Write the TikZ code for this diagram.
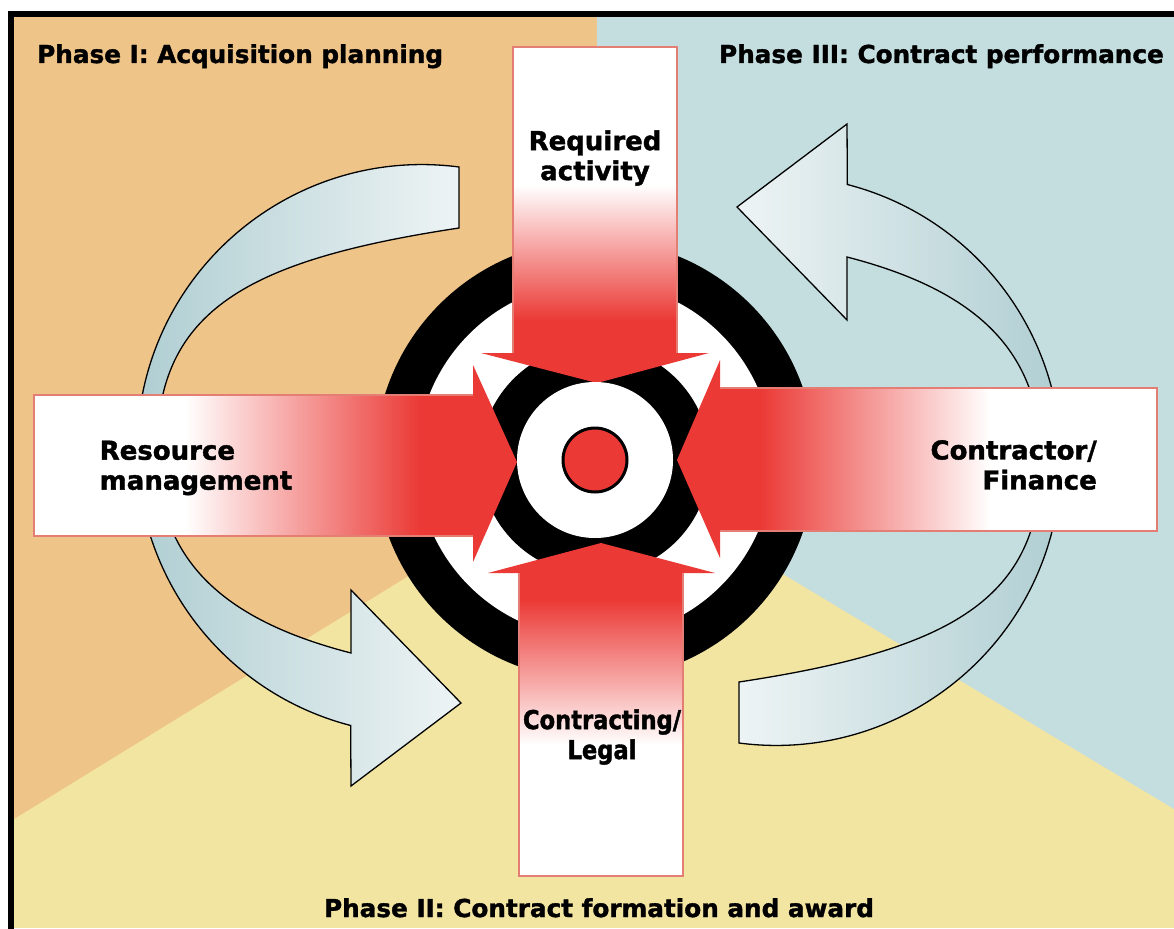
\documentclass[tikz,border=0pt]{standalone}
\usepackage{fontspec}
\setmainfont{DejaVu Sans}[BoldFeatures={FakeBold=1.5}]
\newfontfamily\narrowsans{DejaVu Sans}[FakeStretch=0.87, BoldFeatures={FakeBold=1.5}]
\usepackage{tikz}

\definecolor{orangebg}{RGB}{239,196,136}
\definecolor{bluebg}{RGB}{196,222,224}
\definecolor{yellowbg}{RGB}{242,229,162}
\definecolor{arrowred}{RGB}{235,58,54}
\definecolor{boxline}{RGB}{228,125,115}
\definecolor{arclight}{RGB}{238,244,245}
\definecolor{arcdark}{RGB}{172,204,208}

% outline of the curved cycle arrow (right one; the left one is the same turned 180 degrees)
\newcommand{\cyclearc}{(739,682) -- (739,743) arc[start angle=97.46, end angle=-75.5, radius=285]
  -- (847,124) -- (737,207) -- (847,320) -- (847,257)
  .. controls (975,290) and (1041,350) .. (1041,460)
  .. controls (1041,600) and (950,650) .. (739,682) -- cycle}

\begin{document}
\begin{tikzpicture}[x=1pt, y=-1pt,
        phase/.style={font=\fontsize{24.7}{28}\selectfont\bfseries, inner sep=0pt},
        boxtext/.style={font=\fontsize{26}{30}\selectfont\bfseries, inner sep=0pt},
        redarrow/.style={fill=arrowred},
        boxedge/.style={draw=boxline, line width=1.5pt},
        arcarrow/.style={draw=black, line width=1.3pt}]

        \useasboundingbox (0,0) rectangle (1174,928);
        \clip (0,0) rectangle (1174,928);
        \fill[white] (0,0) rectangle (1174,928);

        % Phase areas
        \fill[yellowbg] (14,17) rectangle (1174,928);
        \fill[orangebg] (14,17) -- (597,17) -- (595,461) -- (14,819) -- cycle;
        \fill[bluebg] (597,17) -- (1174,17) -- (1174,809) -- (595,461) -- cycle;
        \draw[line width=6pt] (11,1000) -- (11,14) -- (1200,14);

        % Cycle arrows
        \shade[arcarrow, left color=arclight, right color=arcdark] \cyclearc;
        \shade[arcarrow, left color=arcdark, right color=arclight, rotate around={180:(599,455)}] \cyclearc;

        % Target
        \coordinate (hub) at (595,460);
        \fill[black] (hub) circle[radius=220pt];
        \fill[white] (hub) circle[radius=178pt];
        \fill[black] (hub) circle[radius=115pt];

        % Arrows into the target
        \fill[redarrow] (513,47) -- (677,47) -- (677,353) -- (709,353) -- (597,383) -- (481,353) -- (513,353) -- cycle;
        \fill[white] (513,47) rectangle (677,185);
        \shade[top color=white, bottom color=arrowred] (513,185) rectangle (677,320);
        \draw[boxedge] (513,353) -- (513,47) -- (677,47) -- (677,353);

        \fill[redarrow] (34,395) -- (473,395) -- (473,365) -- (517,462) -- (473,562) -- (473,536) -- (34,536) -- cycle;
        \fill[white] (34,395) rectangle (185,536);
        \shade[left color=white, right color=arrowred] (185,395) rectangle (420,536);
        \draw[boxedge] (473,395) -- (34,395) -- (34,536) -- (473,536);

        \fill[redarrow] (1157,388) -- (720,388) -- (720,360) -- (677,460) -- (720,558) -- (720,531) -- (1157,531) -- cycle;
        \fill[white] (990,388) rectangle (1157,531);
        \shade[left color=arrowred, right color=white] (760,388) rectangle (990,531);
        \draw[boxedge] (720,388) -- (1157,388) -- (1157,531) -- (720,531);

        \fill[redarrow] (519,876) -- (519,573) -- (488,573) -- (601,543) -- (715,573) -- (683,573) -- (683,876) -- cycle;
        \fill[white] (519,745) rectangle (683,876);
        \shade[top color=arrowred, bottom color=white] (519,600) rectangle (683,745);
        \draw[boxedge] (519,573) -- (519,876) -- (683,876) -- (683,573);

        \fill[white] (hub) circle[radius=78pt];
        \filldraw[fill=arrowred, draw=black, line width=3pt] (hub) circle[radius=32pt];

        % Nodes
        \node[boxtext, align=center] (reqact) at (595,158) {Required\\activity};
        \node[boxtext, align=left] (resmgmt) at (196,468) {Resource\\management};
        \node[boxtext, align=right, anchor=east] (confin) at (1097,465) {Contractor/\\Finance};
        \node[boxtext, align=center, font=\fontsize{26}{30}\selectfont\narrowsans\bfseries] (conlegal) at (602,737) {Contracting/\\Legal};

        \node[phase, anchor=base west] (plan) at (37,63) {Phase I: Acquisition planning};
        \node[phase, anchor=base east] (perform) at (1164,63) {Phase III: Contract performance};
        \node[phase, anchor=base] (award) at (599,917) {Phase II: Contract formation and award};
    \end{tikzpicture}
\end{document}
